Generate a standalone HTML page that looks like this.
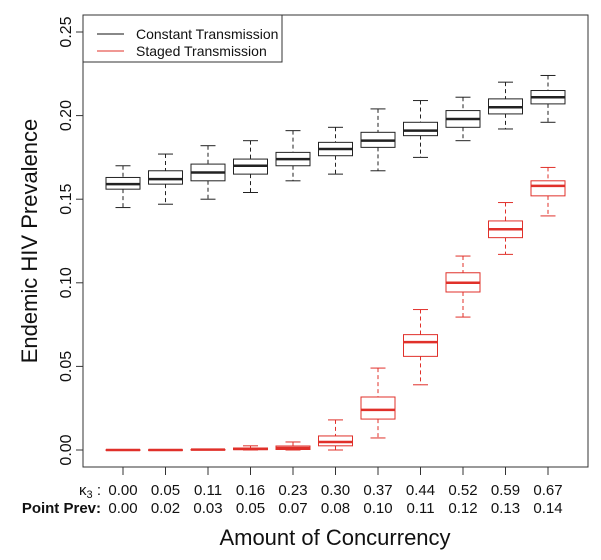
<!DOCTYPE html>
<html><head><meta charset="utf-8"><style>
body{margin:0;background:#fff}
svg{display:block;font-family:"Liberation Sans",Arial,sans-serif}
</style></head><body>
<svg id="chart" width="601" height="560" viewBox="0 0 601 560">
<rect x="83" y="15" width="505" height="452" fill="none" stroke="#333" stroke-width="1"/>
<g id="marks"></g>
<g id="yaxis"></g>
<g id="xaxis"></g>
<text x="0" y="0" transform="translate(37,241) rotate(-90)" text-anchor="middle" font-size="22" fill="#111">Endemic HIV Prevalence</text>
<text x="335" y="545" text-anchor="middle" font-size="22" fill="#111">Amount of Concurrency</text>
<g>
<rect x="83" y="15" width="199" height="47" fill="#fff" stroke="#333"/>
<line x1="97" y1="34" x2="124" y2="34" stroke="#111"/>
<text x="136" y="39" font-size="14" fill="#111">Constant Transmission</text>
<line x1="97" y1="51" x2="124" y2="51" stroke="#e0302a"/>
<text x="136" y="56" font-size="14" fill="#111">Staged Transmission</text>
</g>
</svg>
<script>
const kappa = ["0.00","0.05","0.11","0.16","0.23","0.30","0.37","0.44","0.52","0.59","0.67"];
const pointPrev = ["0.00","0.02","0.03","0.05","0.07","0.08","0.10","0.11","0.12","0.13","0.14"];
const yTicks = [0, 0.05, 0.10, 0.15, 0.20, 0.25];
const yTickLabels = ["0.00","0.05","0.10","0.15","0.20","0.25"];
// [low whisker, q1, median, q3, high whisker]
const constantStats = [
 [0.145,0.156,0.159,0.163,0.170],
 [0.147,0.159,0.162,0.167,0.177],
 [0.150,0.161,0.166,0.171,0.182],
 [0.154,0.165,0.170,0.174,0.185],
 [0.161,0.170,0.174,0.178,0.191],
 [0.165,0.176,0.180,0.184,0.193],
 [0.167,0.181,0.185,0.190,0.204],
 [0.175,0.188,0.191,0.196,0.209],
 [0.185,0.193,0.198,0.203,0.211],
 [0.192,0.201,0.205,0.210,0.220],
 [0.196,0.207,0.211,0.215,0.224]
];
const stagedStats = [
 [0,0,0,0.0001,0.0002],
 [0,0,0,0.0001,0.0002],
 [0,0,0.0002,0.0003,0.0006],
 [0,0.0002,0.0007,0.0012,0.0025],
 [0,0.0003,0.0012,0.0024,0.0048],
 [0,0.0025,0.0048,0.0084,0.018],
 [0.0072,0.0185,0.024,0.0317,0.049],
 [0.039,0.056,0.0645,0.069,0.084],
 [0.0795,0.0945,0.100,0.106,0.116],
 [0.117,0.127,0.132,0.137,0.148],
 [0.140,0.152,0.158,0.161,0.169]
];
const NS="http://www.w3.org/2000/svg";
function y(v){return 450 - v*1672;}
function x(i){return 123 + i*42.5;}
function mk(tag,attrs,parent){const e=document.createElementNS(NS,tag);for(const k in attrs)e.setAttribute(k,attrs[k]);parent.appendChild(e);return e;}
const marks=document.getElementById('marks');
function drawBoxes(stats,color,name){
 stats.forEach((s,i)=>{
  const g=mk('g',{},marks);
  
  
  const cx=x(i);
  mk('line',{x1:cx,x2:cx,y1:y(s[4]),y2:y(s[3]),stroke:color,'stroke-dasharray':'4,3'},g);
  mk('line',{x1:cx,x2:cx,y1:y(s[1]),y2:y(s[0]),stroke:color,'stroke-dasharray':'4,3'},g);
  mk('line',{x1:cx-7.5,x2:cx+7.5,y1:y(s[4]),y2:y(s[4]),stroke:color},g);
  mk('line',{x1:cx-7.5,x2:cx+7.5,y1:y(s[0]),y2:y(s[0]),stroke:color},g);
  mk('rect',{x:cx-17,y:y(s[3]),width:34,height:Math.max(y(s[1])-y(s[3]),0.5),fill:'none',stroke:color},g);
  mk('line',{x1:cx-17,x2:cx+17,y1:y(s[2]),y2:y(s[2]),stroke:color,'stroke-width':2.5},g);
 });
}
drawBoxes(constantStats,'#222','constant');
drawBoxes(stagedStats,'#e0302a','staged');
const ya=document.getElementById('yaxis');
yTicks.forEach((v,i)=>{
 const l=mk('line',{x1:76,x2:83,y1:y(v),y2:y(v),stroke:'#333'},ya);
 
 
 const t=mk('text',{transform:`translate(71,${y(v)}) rotate(-90)`,'text-anchor':'middle','font-size':16,fill:'#111'},ya);
 t.textContent=yTickLabels[i];
 
 
});
const xa=document.getElementById('xaxis');
kappa.forEach((k,i)=>{
 const l=mk('line',{x1:x(i),x2:x(i),y1:467,y2:475,stroke:'#333'},xa);
 
 
 const t=mk('text',{x:x(i),y:495,'text-anchor':'middle','font-size':15,fill:'#111'},xa);
 t.textContent=k;
 
 
 const t2=mk('text',{x:x(i),y:513,'text-anchor':'middle','font-size':15,fill:'#111'},xa);
 t2.textContent=pointPrev[i];
 
 
});
const kl=mk('text',{x:101,y:495,'text-anchor':'end','font-size':15,fill:'#111'},xa);
kl.innerHTML='κ<tspan font-size="11" dy="3">3</tspan><tspan dy="-3"> :</tspan>';


const pl=mk('text',{x:101,y:513,'text-anchor':'end','font-size':15,'font-weight':'bold',fill:'#111'},xa);
pl.textContent='Point Prev:';


</script>
</body></html>
